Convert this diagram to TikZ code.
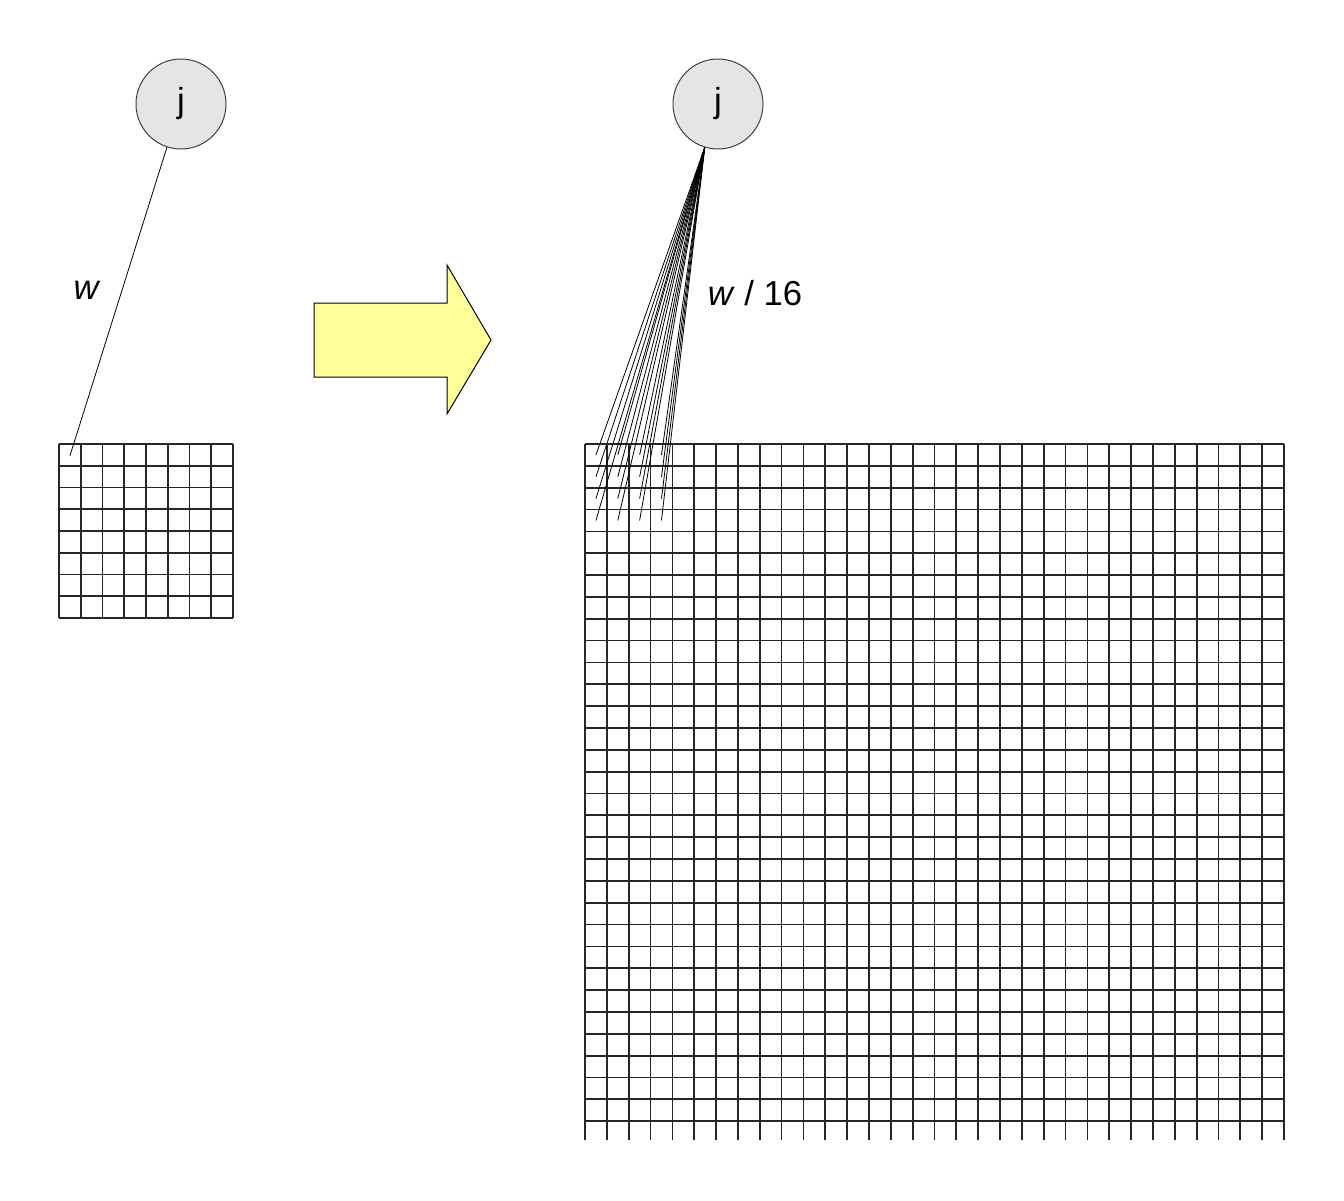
\documentclass[tikz,border=0pt]{standalone}
\usepackage{fontspec}
\setmainfont{Liberation Sans}
\usepackage{xcolor}
\usetikzlibrary{positioning}

\definecolor{arrowyellow}{RGB}{255,255,153}

\begin{document}
\begin{tikzpicture}[x=0.75pt,y=-0.75pt,
        unit/.style={circle, draw=black!75, line width=0.75pt, fill=black!10,
          minimum size=67.5pt, inner sep=0pt, font={\fontsize{26}{30}\selectfont}},
        gridline/.style={line width=1.3pt, black!85},
        weight/.style={line width=0.6pt},
        wlabel/.style={font={\fontsize{26}{30}\selectfont}}]
          \useasboundingbox (0,0) rectangle (1344,1200);

          %draw units
          \node[unit] (jleft)  at (181,104) {j};
          \node[unit] (jright) at (718,104) {j};

          %draw small layer
          \foreach \i in {0,...,8} {
            \draw[gridline] (59+\i*21.75,444) -- (59+\i*21.75,618);
            \draw[gridline] (59,444+\i*21.75) -- (233,444+\i*21.75);
          }
          \coordinate (small-1-1) at (69.9,455.9);

          %draw big layer
          \foreach \i in {0,...,32}
            \draw[gridline] (585+\i*21.844,444) -- (585+\i*21.844,1140);
          \foreach \i in {0,...,31}
            \draw[gridline] (585,444+\i*21.844) -- (1284,444+\i*21.844);
          \foreach \r in {1,...,4}
            \foreach \c in {1,...,4}
              \coordinate (big-\r-\c) at (585+\c*21.844-10.9,444+\r*21.844-10.9);

          %draw weights
          \draw[weight] (jleft.252) -- (small-1-1);
          \foreach \r in {1,...,4}
            \foreach \c in {1,...,4}
              \draw[weight] (jright.253) -- (big-\r-\c);

          %draw arrow
          \draw[line width=0.75pt, fill=arrowyellow] (314,303) -- (447,303) -- (447,265)
            -- (491,340) -- (447,414) -- (447,377) -- (314,377) -- cycle;

          \node[wlabel] (wsmall) at (87,290) {\textit{w}};
          \node[wlabel] (wbig)   at (755,293) {\textit{w} / 16};
    \end{tikzpicture}
\end{document}
